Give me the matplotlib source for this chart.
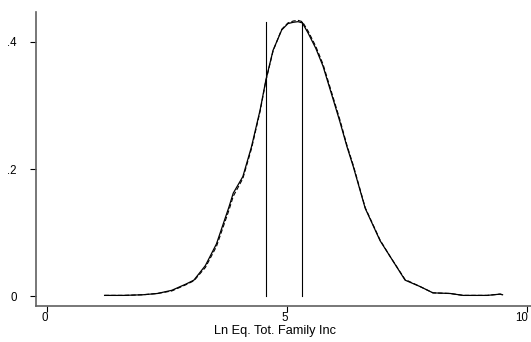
import matplotlib
matplotlib.use("Agg")
import matplotlib.pyplot as plt
from matplotlib.transforms import ScaledTranslation

# Data
x_vals = [1.2, 1.6, 2.0, 2.3, 2.6, 2.9, 3.06, 3.3, 3.53, 3.79, 3.88, 4.08, 4.26, 4.44,
          4.56, 4.71, 4.89, 5.02, 5.13, 5.23, 5.32, 5.44, 5.6, 5.75, 5.96, 6.10, 6.25,
          6.38, 6.63, 6.94, 7.15, 7.46, 7.77, 8.04, 8.4, 8.67, 9.17, 9.44, 9.49]
dens_solid = [0.001, 0.001, 0.002, 0.004, 0.009, 0.019, 0.025, 0.048, 0.082, 0.140,
              0.162, 0.188, 0.235, 0.293, 0.340, 0.387, 0.419, 0.429, 0.431, 0.432,
              0.430, 0.414, 0.390, 0.362, 0.310, 0.275, 0.235, 0.204, 0.138, 0.087,
              0.062, 0.025, 0.015, 0.005, 0.004, 0.001, 0.001, 0.003, 0.002]
dens_dashed = [0.001, 0.001, 0.002, 0.004, 0.008, 0.018, 0.024, 0.045, 0.078, 0.135,
               0.157, 0.185, 0.232, 0.291, 0.339, 0.386, 0.420, 0.430, 0.433, 0.434,
               0.432, 0.417, 0.393, 0.365, 0.313, 0.278, 0.237, 0.206, 0.139, 0.088,
               0.062, 0.026, 0.015, 0.005, 0.004, 0.001, 0.001, 0.003, 0.002]
vlines_x = [4.556, 5.32]
vline_top = 0.432
x_ticks = [0, 5, 10]
x_ticklabels = ["0", "5", "10"]
y_ticks = [0, 0.2, 0.4]
y_ticklabels = ["0", ".2", ".4"]
x_label = "Ln Eq. Tot. Family Inc"

plt.rcParams['font.family'] = ['Liberation Sans', 'DejaVu Sans']

fig = plt.figure(figsize=(5.31, 3.42), dpi=100)
ax = fig.add_axes([36/531, 1 - 306/342, 495/531, 294/342])

ax.plot(x_vals, dens_solid, color='black', lw=0.9)
ax.plot(x_vals, dens_dashed, color='black', lw=0.8, ls=(0, (4, 2)))
for vx in vlines_x:
    ax.plot([vx, vx], [0, vline_top], color='black', lw=0.8)

ax.set_xlim(-0.229, 10.083)
ax.set_ylim(-0.0157, 0.4472)

for s in ['top', 'right']:
    ax.spines[s].set_visible(False)
for s in ['left', 'bottom']:
    ax.spines[s].set_color('#606060')
    ax.spines[s].set_linewidth(1.2)

ax.set_xticks(x_ticks)
ax.set_xticklabels(x_ticklabels, fontsize=8.3)
ax.set_yticks(y_ticks)
ax.set_yticklabels(y_ticklabels, fontsize=8.3)
ax.tick_params(axis='x', direction='out', length=4, width=0.8, pad=0)
ax.tick_params(axis='y', direction='out', length=4.3, width=0.8, pad=9.5)
for lab in ax.get_xticklabels():
    lab.set_horizontalalignment('right')
    lab.set_transform(lab.get_transform() + ScaledTranslation(1/100, 0, fig.dpi_scale_trans))

ax.set_xlabel(x_label, fontsize=9.2)
ax.xaxis.set_label_coords(0.482, -0.084)
ax.xaxis.label.set_verticalalignment('center')

fig.savefig("out.png", dpi=100)
